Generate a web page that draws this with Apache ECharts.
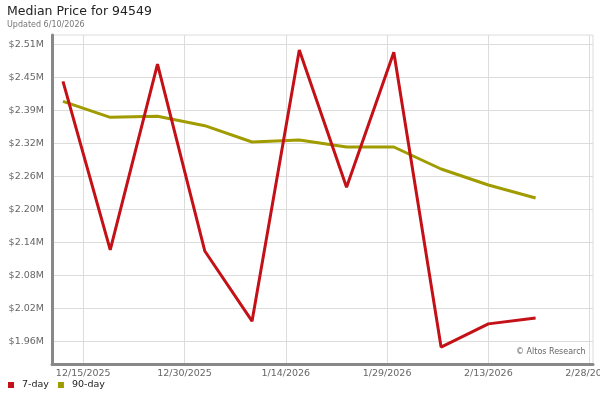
<!DOCTYPE html>
<html>
<head>
<meta charset="utf-8">
<script src="https://cdn.jsdelivr.net/npm/echarts@6/dist/echarts.min.js"></script>
<style>html,body{margin:0;padding:0;background:#fff}#c{width:600px;height:400px}</style>
</head>
<body>
<div id="c"></div>
<script>
// ---- data ----
const dates = ['2025-12-12','2025-12-19','2025-12-26','2026-01-02','2026-01-09','2026-01-16','2026-01-23','2026-01-30','2026-02-06','2026-02-13','2026-02-20'];
const sevenDay = [2442000, 2130000, 2474000, 2128000, 1998000, 2500000, 2246000, 2496000, 1950000, 1993000, 2004000];
const ninetyDay = [2405000, 2375500, 2377300, 2360000, 2329700, 2333400, 2320500, 2320500, 2279800, 2250100, 2226100];
const xTickDates = ['2025-12-15','2025-12-30','2026-01-14','2026-01-29','2026-02-13','2026-02-28'];
const yTickValues = [1960000, 2021100, 2082200, 2143300, 2204400, 2265500, 2326600, 2387700, 2448800, 2509900];
const yTickLabels = ['$1.96M','$2.02M','$2.08M','$2.14M','$2.20M','$2.26M','$2.32M','$2.39M','$2.45M','$2.51M'];

function ts(s){ const p = s.split('-').map(Number); return new Date(p[0], p[1]-1, p[2]).getTime(); }
const xTicks = xTickDates.map(ts);
const font = '"DejaVu Sans", Verdana, sans-serif';

function nearestLabel(values, labels, v){
  let best = 0, bd = Infinity;
  values.forEach(function(t, i){ const dd = Math.abs(t - v); if (dd < bd){ bd = dd; best = i; } });
  return labels[best];
}
const xTickLabels = xTickDates.map(function(s){ const p = s.split('-').map(Number); return p[1] + '/' + p[2] + '/' + p[0]; });

const chart = echarts.init(document.getElementById('c'), null, {renderer:'canvas'});
chart.setOption({
  animation: false,
  title: [
    {text: 'Median Price for 94549', left: 7, top: 5, padding: 0,
     textStyle: {fontFamily: font, fontSize: 12.5, fontWeight: 'normal', color: '#222'}},
    {text: 'Updated 6/10/2026', left: 7, top: 21, padding: 0,
     textStyle: {fontFamily: font, fontSize: 8, fontWeight: 'normal', color: '#777'}}
  ],
  legend: {
    data: ['7-day','90-day'], left: 8, top: 380, padding: 0, icon: 'rect',
    itemWidth: 6, itemHeight: 6, itemGap: 9,
    textStyle: {fontFamily: font, fontSize: 9.5, color: '#222', padding: [0,0,0,3]}
  },
  grid: {left: 52, right: 7, top: 35, bottom: 36, show: true, borderColor: '#dcdcdc', borderWidth: 1,
         containLabel: false, outerBoundsMode: 'none'},
  xAxis: {
    type: 'value',
    min: ts('2025-12-10') + 9*3600e3,
    max: ts('2026-02-28') + 12*3600e3,
    axisLine: {show: true, onZero: false, lineStyle: {color: '#888', width: 3}},
    axisTick: {show: false, customValues: xTicks},
    splitLine: {show: true, lineStyle: {color: '#dcdcdc', width: 1}},
    axisLabel: {
      customValues: xTicks, margin: 5, color: '#666', fontFamily: font, fontSize: 9.5,
      hideOverlap: false,
      formatter: function(v){ return nearestLabel(xTicks, xTickLabels, v); }
    }
  },
  yAxis: {
    type: 'value', min: 1918700, max: 2527900,
    axisLine: {show: true, onZero: false, lineStyle: {color: '#888', width: 3}},
    axisTick: {show: false, customValues: yTickValues},
    splitLine: {show: true, lineStyle: {color: '#dcdcdc', width: 1}},
    axisLabel: {
      customValues: yTickValues, margin: 8, color: '#666', fontFamily: font, fontSize: 9.5,
      formatter: function(v){ return nearestLabel(yTickValues, yTickLabels, v); }
    }
  },
  graphic: [
    {type: 'text', left: 516, top: 348, z: 100,
     style: {text: '\u00A9 Altos Research', fill: '#666', font: '8px ' + font}}
  ],
  series: [
    {name: '90-day', type: 'line', showSymbol: false, symbol: 'none',
     data: dates.map(function(d, i){ return [ts(d), ninetyDay[i]]; }),
     lineStyle: {color: '#a09c00', width: 3}, itemStyle: {color: '#a09c00'}},
    {name: '7-day', type: 'line', showSymbol: false, symbol: 'none',
     data: dates.map(function(d, i){ return [ts(d), sevenDay[i]]; }),
     lineStyle: {color: '#c41017', width: 3}, itemStyle: {color: '#c41017'}}
  ]
});
</script>
</body>
</html>
